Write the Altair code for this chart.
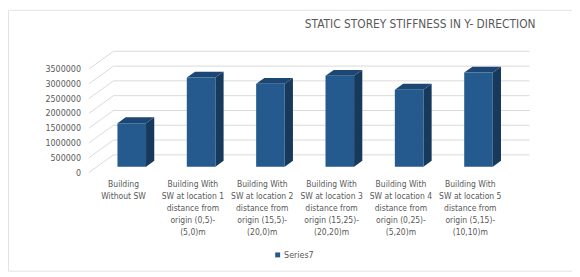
import altair as alt
import pandas as pd

# ---------------- data ----------------
categories = [
    "Building\nWithout SW",
    "Building  With\nSW at location 1\ndistance from\norigin (0,5)-\n(5,0)m",
    "Building  With\nSW at location 2\ndistance from\norigin (15,5)-\n(20,0)m",
    "Building  With\nSW at location 3\ndistance from\norigin (15,25)-\n(20,20)m",
    "Building  With\nSW at location 4\ndistance from\norigin (0,25)-\n(5,20)m",
    "Building  With\nSW at location 5\ndistance from\norigin (5,15)-\n(10,10)m",
]
values = [1470000, 3010000, 2800000, 3070000, 2600000, 3180000]
tick_values = [0, 500000, 1000000, 1500000, 2000000, 2500000, 3000000, 3500000]
series_name = "Series7"
title_text = "STATIC STOREY STIFFNESS IN Y- DIRECTION"

# ---------------- 3D styling (oblique projection) ----------------
DEPTH_X = 25 / 70.33      # depth of the box in category-slot units
DEPTH_V = 600000          # depth of the box expressed in value units
HALF = 0.206              # half bar width (slot units)
F0, F1 = 1 / 3, 2 / 3     # bar occupies the middle third of the depth

FONT = "DejaVu Sans Condensed, Roboto, sans-serif"
TXT = "#595959"
GRID = "#d9d9d9"
FRONT = "#245a8d"
SIDE = "#16395c"
TOP = "#1c4674"

n = len(values)
front_rows, side_rows, top_rows, label_rows = [], [], [], []
for i, (c, v) in enumerate(zip(categories, values)):
    l = i + 0.5 - HALF + F0 * DEPTH_X
    r = i + 0.5 + HALF + F0 * DEPTH_X
    sx = (F1 - F0) * DEPTH_X
    front_rows.append(dict(i=i, x=l, x2=r, y=F0 * DEPTH_V, y2=v + F0 * DEPTH_V,
                           series=series_name, value=v))
    side_rows.append(dict(i=i, x=r, lo=F0 * DEPTH_V, hi=v + F0 * DEPTH_V))
    side_rows.append(dict(i=i, x=r + sx, lo=F1 * DEPTH_V, hi=v + F1 * DEPTH_V))
    top_rows.append(dict(i=i, y=v + F0 * DEPTH_V, xl=l, xr=r))
    top_rows.append(dict(i=i, y=v + F1 * DEPTH_V, xl=l + sx, xr=r + sx))
    label_rows.append(dict(x=i + 0.5, label=c))

grid_df = pd.DataFrame(dict(
    v=tick_values,
    lab=[str(t) for t in tick_values],
    x0=[0.0] * len(tick_values),
    xw=[DEPTH_X] * len(tick_values),
    xe=[n + DEPTH_X] * len(tick_values),
    vw=[t + DEPTH_V for t in tick_values],
))

xs = alt.Scale(domain=[0, n], nice=False, zero=False)
ys = alt.Scale(domain=[0, max(tick_values)], nice=False, zero=False)

base_grid = alt.Chart(grid_df)

diag = base_grid.mark_rule(color=GRID, strokeWidth=1).encode(
    x=alt.X("x0:Q", scale=xs, axis=None),
    x2="xw:Q",
    y=alt.Y("v:Q", scale=ys, axis=None),
    y2="vw:Q",
)

ylabels = base_grid.mark_text(
    font=FONT, fontSize=9, color=TXT, align="right", baseline="middle", dx=-8,
).encode(
    x=alt.X("x0:Q", scale=xs, axis=None),
    y=alt.Y("v:Q", scale=ys, axis=None),
    text="lab:N",
)

wall = base_grid.mark_rule(color=GRID, strokeWidth=1).encode(
    x=alt.X("xw:Q", scale=xs, axis=None),
    x2="xe:Q",
    y=alt.Y("vw:Q", scale=ys, axis=None),
)

side = alt.Chart(pd.DataFrame(side_rows)).mark_area(color=SIDE, orient="vertical").encode(
    x=alt.X("x:Q", scale=xs, axis=None),
    y=alt.Y("hi:Q", scale=ys, axis=None),
    y2="lo:Q",
    detail="i:N",
)

top = alt.Chart(pd.DataFrame(top_rows)).mark_area(color=TOP, orient="horizontal").encode(
    y=alt.Y("y:Q", scale=ys, axis=None),
    x=alt.X("xl:Q", scale=xs, axis=None),
    x2="xr:Q",
    detail="i:N",
)

front = alt.Chart(pd.DataFrame(front_rows)).mark_rect().encode(
    x=alt.X("x:Q", scale=xs, axis=None),
    x2="x2:Q",
    y=alt.Y("y:Q", scale=ys, axis=None),
    y2="y2:Q",
    color=alt.Color("series:N", scale=alt.Scale(range=[FRONT]), legend=alt.Legend(
        orient="none", legendX=187, legendY=184, title=None, symbolType="square",
        symbolSize=25, symbolStrokeWidth=0, labelFont=FONT, labelFontSize=9,
        labelColor=TXT, labelOffset=2, padding=0)),
)

labels = alt.Chart(pd.DataFrame(label_rows)).mark_text(
    font=FONT, fontSize=8.6, color=TXT, lineBreak="\n", lineHeight=12,
    align="center", baseline="top",
).encode(
    x=alt.X("x:Q", scale=xs, axis=None),
    y=alt.value(113),
    text="label:N",
)

title = alt.Chart(pd.DataFrame(dict(t=[title_text]))).mark_text(
    font=FONT, fontSize=12, color=TXT, align="center", baseline="middle",
).encode(x=alt.value(336), y=alt.value(-46), text="t:N")

border = alt.Chart(pd.DataFrame(dict(b=[1]))).mark_rect(
    fill=None, stroke="#e3e3e3", strokeWidth=1,
).encode(x=alt.value(-81.5), x2=alt.value(500), y=alt.value(-59.5), y2=alt.value(205))

chart = alt.layer(border, diag, wall, ylabels, side, top, front, labels, title).properties(
    width=422, height=105,
    padding={"left": 82, "top": 60, "right": 68, "bottom": 104},
    autosize=alt.AutoSizeParams(type="none"),
).configure_view(stroke=None)

chart.save("out.html", embed_options={"renderer": "svg", "actions": False})
